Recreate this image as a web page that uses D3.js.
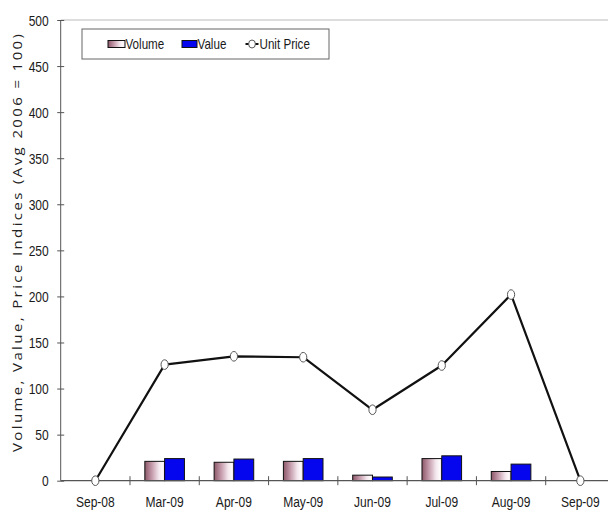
<!DOCTYPE html>
<html>
<head>
<meta charset="utf-8">
<script src="https://cdn.jsdelivr.net/npm/d3@7"></script>
<style>
  html, body { margin: 0; padding: 0; background: #fff; }
  svg { display: block; }
</style>
</head>
<body>
<svg id="chart" width="608" height="514"></svg>
<script>
// Monthly indices (Avg 2006 = 100)
const categories = ["Sep-08", "Mar-09", "Apr-09", "May-09", "Jun-09", "Jul-09", "Aug-09", "Sep-09"];
const volume     = [null, 21, 20, 21, 6, 24, 10, null];
const value      = [null, 24, 23.5, 24, 4, 27, 18, null];
const unitPrice  = [0, 126, 135, 134, 77, 125, 202, 0];
const yTicks     = [0, 50, 100, 150, 200, 250, 300, 350, 400, 450, 500];
const barSeries  = ["Volume", "Value"];
const lineSeries = "Unit Price";
const yTitle     = "Volume, Value, Price Indices (Avg 2006 = 100)";

const svg = d3.select("#chart");
const W = 608;
const plotLeft = 60.7, plotRight = 615, plotTop = 20, plotBottom = 480.7;
const SX = 0.83;                       // narrow face for all labels
const labelFont = "'Liberation Sans Narrow', 'Liberation Sans', Arial, sans-serif";

const x = d3.scaleBand().domain(categories).range([plotLeft, plotRight]).padding(0);
const x1 = d3.scaleBand().domain(barSeries).range([0, x.bandwidth()]).paddingInner(0).paddingOuter(0.75);
const y = d3.scaleLinear().domain([0, 500]).range([plotBottom, plotTop]);

// gradient for the Volume bars
const defs = svg.append("defs");
const grad = defs.append("linearGradient").attr("id", "volGrad")
  .attr("x1", "0%").attr("x2", "100%").attr("y1", "0%").attr("y2", "0%");
[[0, "#8c5769"], [0.35, "#c49aaa"], [0.7, "#f3e6ec"], [0.88, "#fdf9fb"], [1, "#efdde5"]]
  .forEach(([o, c]) => grad.append("stop").attr("offset", o).attr("stop-color", c));

const barFill = { "Volume": "url(#volGrad)", "Value": "#0606ee" };

// top border of the plot area
svg.append("line")
  .attr("x1", plotLeft).attr("x2", W).attr("y1", plotTop).attr("y2", plotTop)
  .attr("stroke", "#d2d2d2").attr("stroke-width", 1.5);

// y axis
const yAxis = svg.append("g").attr("transform", `translate(${plotLeft},0)`)
  .call(d3.axisLeft(y).tickValues(yTicks).tickSize(0).tickPadding(0));
yAxis.select(".domain").remove();
yAxis.selectAll("text").remove();
svg.append("line").attr("x1", plotLeft).attr("x2", plotLeft).attr("y1", plotTop).attr("y2", plotBottom)
  .attr("stroke", "#555").attr("stroke-width", 1);
yAxis.selectAll(".tick").append("line")
  .attr("x1", -3.5).attr("x2", 3.5).attr("stroke", "#555");
yAxis.selectAll(".tick").append("text")
  .attr("transform", `translate(-12,5) scale(${SX},1)`)
  .attr("text-anchor", "end")
  .attr("fill", "#1a1a1a")
  .style("font-family", labelFont).style("font-size", "14.5px")
  .text(d => d);

// bars
const groups = svg.append("g").selectAll("g")
  .data(categories).join("g")
  .attr("transform", d => `translate(${x(d)},0)`);
groups.selectAll("rect")
  .data((d, i) => barSeries.map(s => ({ s, v: s === "Volume" ? volume[i] : value[i] })).filter(o => o.v != null))
  .join("rect")
  .attr("x", d => x1(d.s))
  .attr("width", x1.bandwidth())
  .attr("y", d => y(d.v))
  .attr("height", d => y(0) - y(d.v))
  .attr("fill", d => barFill[d.s])
  .attr("stroke", "#111").attr("stroke-width", 1);

// x axis
svg.append("line").attr("x1", plotLeft).attr("x2", W).attr("y1", plotBottom).attr("y2", plotBottom)
  .attr("stroke", "#555").attr("stroke-width", 1.2);
svg.append("g").selectAll("line")
  .data(categories.slice(1)).join("line")
  .attr("x1", d => x(d)).attr("x2", d => x(d))
  .attr("y1", plotBottom - 4.5).attr("y2", plotBottom + 4.5)
  .attr("stroke", "#555");
svg.append("g").selectAll("text")
  .data(categories).join("text")
  .attr("transform", d => `translate(${x(d) + x.bandwidth() / 2},507) scale(${SX},1)`)
  .attr("text-anchor", "middle")
  .attr("fill", "#1a1a1a")
  .style("font-family", labelFont).style("font-size", "14.5px")
  .text(d => d);

// unit price line
const line = d3.line()
  .x((d, i) => x(categories[i]) + x.bandwidth() / 2)
  .y(d => y(d));
svg.append("path").datum(unitPrice)
  .attr("d", line)
  .attr("fill", "none").attr("stroke", "#111").attr("stroke-width", 2.2)
  .attr("stroke-linejoin", "round");
svg.append("g").selectAll("ellipse")
  .data(unitPrice).join("ellipse")
  .attr("cx", (d, i) => x(categories[i]) + x.bandwidth() / 2)
  .attr("cy", d => y(d))
  .attr("rx", 3.6).attr("ry", 4.8)
  .attr("fill", "#fff").attr("stroke", "#555").attr("stroke-width", 1);

// y axis title
svg.append("text")
  .attr("transform", `translate(22,243) scale(${SX},1) rotate(-90)`)
  .attr("text-anchor", "middle")
  .attr("fill", "#222")
  .attr("textLength", 418).attr("lengthAdjust", "spacing")
  .style("font-family", "'Open Sans', 'DejaVu Sans', sans-serif").style("font-size", "15px")
  .text(yTitle);

// legend
const lg = svg.append("g");
lg.append("rect").attr("x", 82).attr("y", 29).attr("width", 247).attr("height", 30)
  .attr("fill", "#fff").attr("stroke", "#666").attr("stroke-width", 1);
const legendText = (tx, t) => lg.append("text")
  .attr("transform", `translate(${tx},49) scale(${SX},1)`)
  .attr("fill", "#1a1a1a")
  .style("font-family", labelFont).style("font-size", "14px")
  .text(t);
lg.append("rect").attr("x", 108).attr("y", 40.5).attr("width", 17).attr("height", 7)
  .attr("fill", barFill["Volume"]).attr("stroke", "#111");
legendText(125.5, barSeries[0]);
lg.append("rect").attr("x", 182).attr("y", 40.5).attr("width", 15).attr("height", 7)
  .attr("fill", barFill["Value"]).attr("stroke", "#111");
legendText(197.5, barSeries[1]);
lg.append("line").attr("x1", 245.5).attr("x2", 258.5).attr("y1", 44).attr("y2", 44)
  .attr("stroke", "#111").attr("stroke-width", 2);
lg.append("ellipse").attr("cx", 252).attr("cy", 44).attr("rx", 3.4).attr("ry", 4)
  .attr("fill", "#fff").attr("stroke", "#555");
legendText(259.5, lineSeries);
</script>
</body>
</html>
